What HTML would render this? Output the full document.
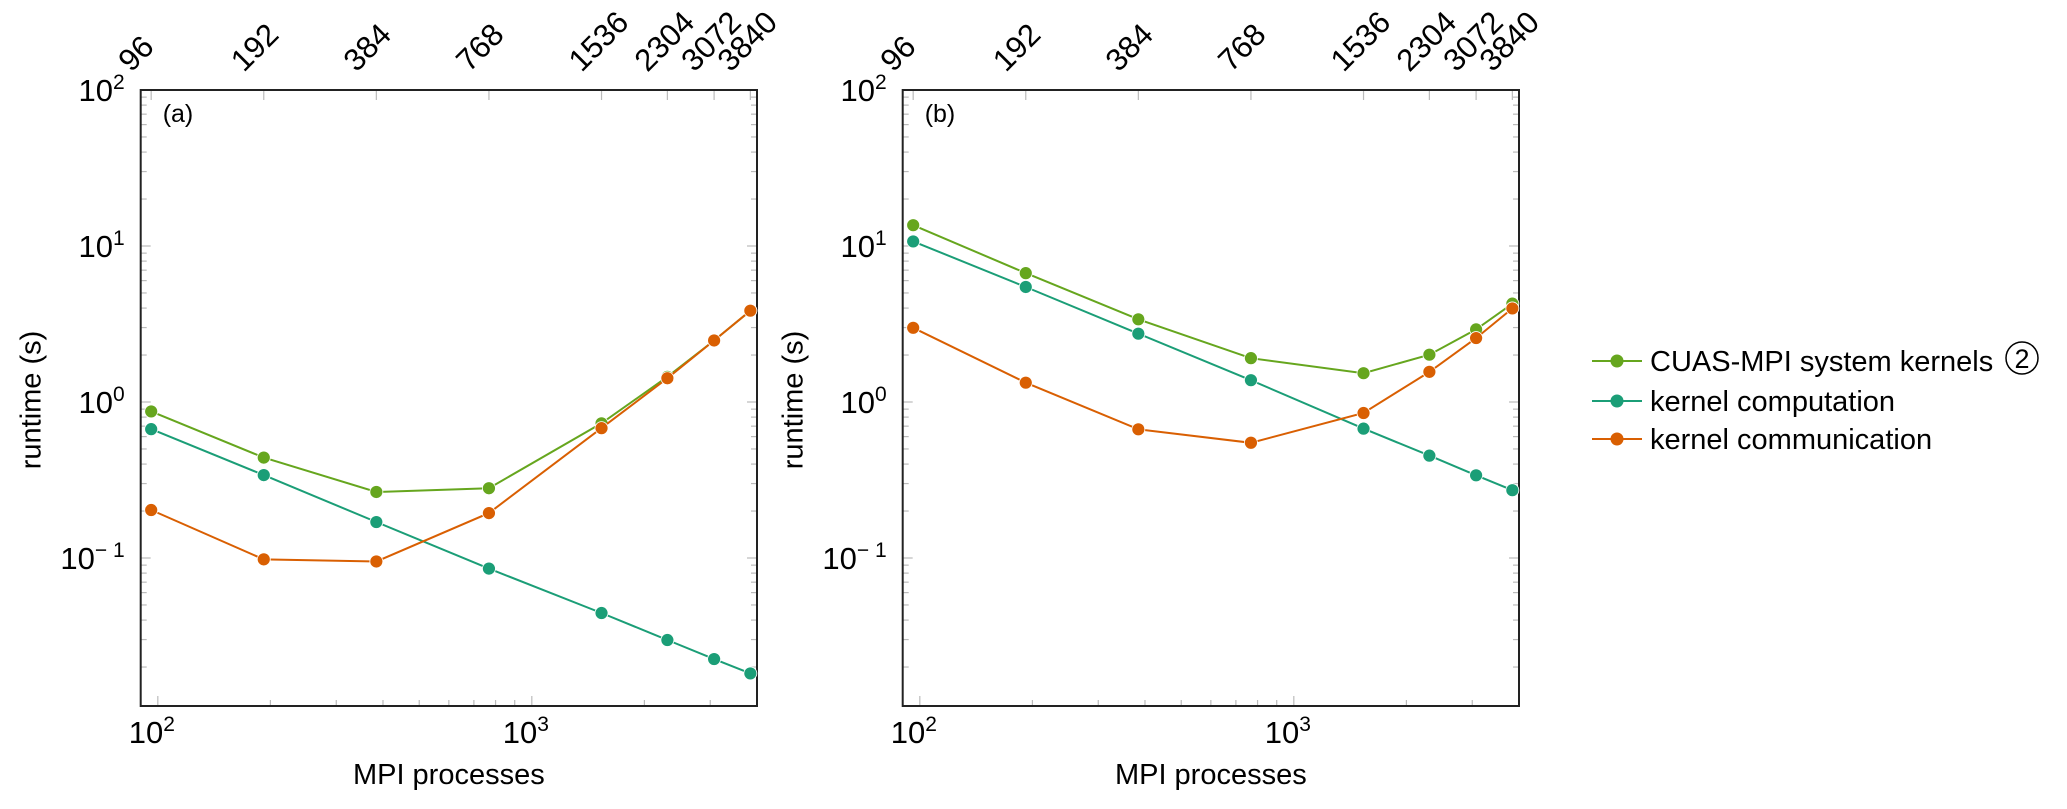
<!DOCTYPE html>
<html><head><meta charset="utf-8">
<style>
html,body{margin:0;padding:0;background:#fff;}
svg{display:block;font-family:"Liberation Sans",sans-serif;}
</style></head>
<body>
<svg id="chart" width="2067" height="809" viewBox="0 0 2067 809" xmlns="http://www.w3.org/2000/svg"></svg>
<script>
const procs = [96, 192, 384, 768, 1536, 2304, 3072, 3840];
const topTickLabels = ["96","192","384","768","1536","2304","3072","3840"];
const aTotal = [0.87, 0.44, 0.265, 0.28, 0.73, 1.45, 2.48, 3.85];
const aComp  = [0.67, 0.34, 0.17, 0.0855, 0.0444, 0.0298, 0.0225, 0.0182];
const aComm  = [0.203, 0.098, 0.095, 0.194, 0.68, 1.42, 2.48, 3.85];
const bTotal = [13.6, 6.7, 3.39, 1.91, 1.53, 2.01, 2.92, 4.27];
const bComp  = [10.7, 5.46, 2.74, 1.38, 0.675, 0.453, 0.339, 0.272];
const bComm  = [2.99, 1.33, 0.668, 0.548, 0.85, 1.56, 2.57, 3.98];
const yMajorExps = [2, 1, 0, -1];
const xMajorExps = [2, 3];
const seriesNames = ["CUAS-MPI system kernels", "kernel computation", "kernel communication"];
const colors = ["#66a61e", "#1b9e77", "#d95f02"];

const NS = "http://www.w3.org/2000/svg";
const svg = document.getElementById("chart");
function el(tag, attrs, parent, text){
  const e = document.createElementNS(NS, tag);
  for (const k in attrs) e.setAttribute(k, attrs[k]);
  if (text !== undefined) e.textContent = text;
  (parent || svg).appendChild(e);
  return e;
}
const TOP = 90, BOT = 706;
const YDEC = 156;
function yScale(v){ return TOP + (2 - Math.log10(v)) * YDEC; }
const XMIN = 90, XDEC = 374;

function panel(offX, label, series, name){
  const L = 140.7 + offX, R = 757 + offX;
  function xScale(v){ return L + (Math.log10(v) - Math.log10(XMIN)) * XDEC; }
  const g = el("g", {});
  
  
  for (let e = -2; e <= 2; e++){
    for (let m = 1; m <= 9; m++){
      const v = m * Math.pow(10, e);
      const y = yScale(v);
      if (y < TOP - 0.5 || y > BOT + 0.5) continue;
      const len = m === 1 ? 10 : 6;
      el("line", {x1:L, x2:L+len, y1:y, y2:y, stroke:"#bbb", "stroke-width":1.2}, g);
      el("line", {x1:R, x2:R-len, y1:y, y2:y, stroke:"#bbb", "stroke-width":1.2}, g);
    }
  }
  for (let e = 1; e <= 3; e++){
    for (let m = 1; m <= 9; m++){
      const v = m * Math.pow(10, e);
      const x = xScale(v);
      if (x < L || x > R) continue;
      const len = m === 1 ? 10 : 6;
      el("line", {x1:x, x2:x, y1:BOT, y2:BOT-len, stroke:"#bbb", "stroke-width":1.2}, g);
    }
  }
  procs.forEach((p, i) => {
    const x = xScale(p);
    el("line", {x1:x, x2:x, y1:TOP, y2:TOP+10, stroke:"#bbb", "stroke-width":1.2}, g);
    const t = el("text", {x:0, y:0, "font-size":31, transform:`translate(${x-20},${73}) rotate(-45)`}, g, topTickLabels[i]);
    
    
  });
  const box = el("rect", {x:L, y:TOP, width:R-L, height:BOT-TOP, fill:"none", stroke:"#222", "stroke-width":2}, g);
  
  
  yMajorExps.forEach(e => {
    const y = yScale(Math.pow(10, e));
    const t = el("text", {x:L-16, y:y+11, "font-size":31, "text-anchor":"end"}, g);
    
    
    el("tspan", {}, t, "10");
    el("tspan", {dy:-12, "font-size":21}, t, e < 0 ? "\u2212 " + (-e) : String(e));
  });
  xMajorExps.forEach(e => {
    const x = xScale(Math.pow(10, e));
    const t = el("text", {x:x-6, y:743, "font-size":31, "text-anchor":"middle"}, g);
    
    
    el("tspan", {}, t, "10");
    el("tspan", {dy:-12, "font-size":21}, t, String(e));
  });
  const xt = el("text", {x:(L+R)/2, y:784, "font-size":29, "text-anchor":"middle"}, g, "MPI processes");
  
  
  const yt = el("text", {x:0, y:0, "font-size":29, "text-anchor":"middle", transform:`translate(${L-100},${400}) rotate(-90)`}, g, "runtime (s)");
  
  
  const pl = el("text", {x:L+22, y:122, "font-size":25}, g, label);
  
  
  series.forEach((vals, si) => {
    const pts = procs.map((p, i) => xScale(p).toFixed(1) + "," + yScale(vals[i]).toFixed(1)).join(" ");
    const line = el("polyline", {points:pts, fill:"none", stroke:colors[si], "stroke-width":2}, g);
    
    
    procs.forEach((p, i) => {
      const c = el("circle", {cx:xScale(p), cy:yScale(vals[i]), r:6.5, fill:colors[si], stroke:"#fff", "stroke-width":0.8}, g);
      
      
    });
  });
}
panel(0, "(a)", [aTotal, aComp, aComm], "panel-a");
panel(762, "(b)", [bTotal, bComp, bComm], "panel-b");

const lg = el("g", {});


const legY = [361, 401, 439];
seriesNames.forEach((n, i) => {
  const y = legY[i];
  const item = el("g", {}, lg);
  
  
  el("line", {x1:1592, x2:1642, y1:y, y2:y, stroke:colors[i], "stroke-width":2}, item);
  el("circle", {cx:1617, cy:y, r:6.5, fill:colors[i]}, item);
  el("text", {x:1650, y:y+10, "font-size":29}, item, n);
});
el("circle", {cx:2022, cy:358, r:16, fill:"none", stroke:"#000", "stroke-width":1.5}, lg);
el("text", {x:2022, y:368, "font-size":27, "text-anchor":"middle"}, lg, "2");
</script>
</body></html>
